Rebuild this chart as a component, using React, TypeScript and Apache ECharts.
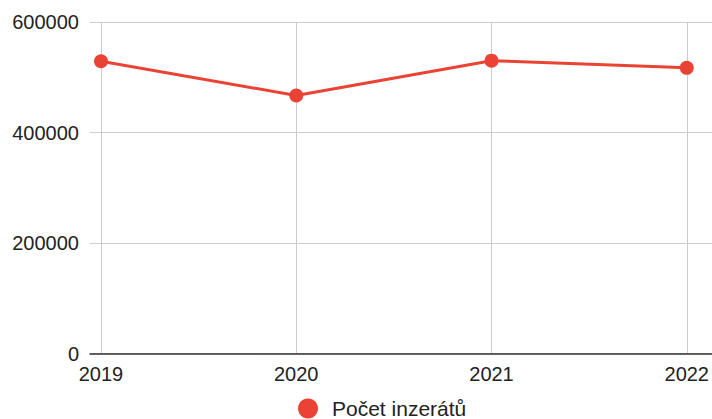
import React, { useEffect, useRef } from "react";
import * as echarts from "echarts";

const categories = ["2019", "2020", "2021", "2022"];
const seriesName = "Počet inzerátů";
const values = [529000, 467000, 530000, 517000];
const yMin = 0;
const yMax = 600000;
const yInterval = 200000;

export default function App() {
  const ref = useRef<HTMLDivElement>(null);
  useEffect(() => {
    if (!ref.current) return;
    const chart = echarts.init(ref.current, null, { renderer: "svg" });
    const font = "'Liberation Sans', Arial, sans-serif";
    chart.setOption({
      animation: false,
      textStyle: { fontFamily: font },
      legend: {
        show: true,
        data: [{ name: seriesName, icon: "circle" }],
        top: 398,
        left: 298,
        padding: 0,
        itemWidth: 20,
        itemHeight: 20,
        textStyle: { fontSize: 21, color: "#222", fontFamily: font, padding: [0, 0, 0, 9] },
      },
      grid: [
        { left: 101, right: 24, top: 22, bottom: 65.5, containLabel: false },
        { left: 90, right: 0, top: 22, bottom: 65.5, containLabel: false },
      ],
      xAxis: [
        {
          type: "category",
          gridIndex: 0,
          data: categories,
          boundaryGap: false,
          axisLine: { show: false },
          axisTick: { show: false },
          axisLabel: { fontSize: 20, color: "#222", margin: 10, fontFamily: font },
          splitLine: { show: true, lineStyle: { color: "#cccccc", width: 1 } },
        },
        {
          type: "value",
          gridIndex: 1,
          min: 0,
          max: 1,
          axisLine: { show: true, lineStyle: { color: "#333", width: 1.5 } },
          axisTick: { show: false },
          axisLabel: { show: false },
          splitLine: { show: false },
        },
      ],
      yAxis: [
        {
          type: "value",
          gridIndex: 0,
          min: yMin,
          max: yMax,
          interval: yInterval,
          axisLine: { show: false },
          axisTick: { show: false },
          axisLabel: {
            fontSize: 20,
            color: "#222",
            margin: 22,
            fontFamily: font,
            formatter: (v: number) => String(v),
          },
          splitLine: { show: false },
        },
        {
          type: "value",
          gridIndex: 1,
          min: yMin,
          max: yMax,
          interval: yInterval,
          axisLine: { show: false },
          axisTick: { show: false },
          axisLabel: { show: false },
          splitLine: { show: true, lineStyle: { color: "#cccccc", width: 1 } },
        },
      ],
      series: [
        {
          name: seriesName,
          type: "line",
          xAxisIndex: 0,
          yAxisIndex: 0,
          data: values,
          z: 5,
          symbol: "circle",
          symbolSize: 14,
          lineStyle: { color: "#ea4335", width: 3 },
          itemStyle: { color: "#ea4335" },
        },
      ],
    });
    return () => chart.dispose();
  }, []);
  return (
    <div
      ref={ref}
      style={{ position: "fixed", left: 0, top: 0, width: 712, height: 419, background: "#fff" }}
    />
  );
}
